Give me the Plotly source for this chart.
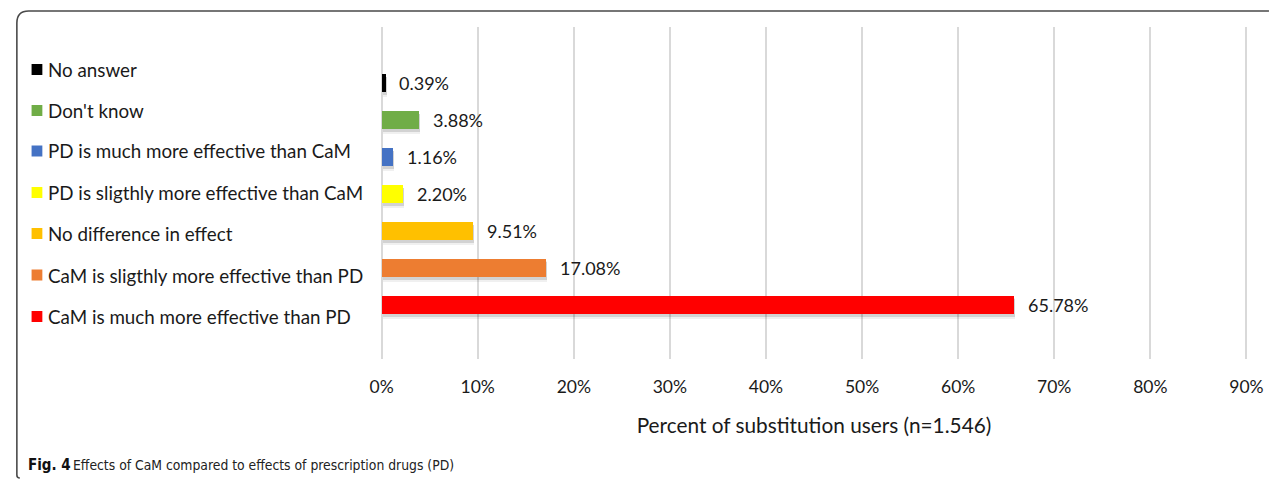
import plotly.graph_objects as go

# Survey answers, listed bottom-to-top as drawn on the category axis
categories = [
    "CaM is much more effective than PD",
    "CaM is sligthly more effective than PD",
    "No difference in effect",
    "PD is sligthly more effective than CaM",
    "PD is much more effective than CaM",
    "Don't know",
    "No answer",
]
percent = [65.78, 17.08, 9.51, 2.20, 1.16, 3.88, 0.39]
colors = ["#FF0000", "#ED7D31", "#FFC000", "#FFFF00", "#4472C4", "#70AD47", "#000000"]
x_ticks = [0, 10, 20, 30, 40, 50, 60, 70, 80, 90]
x_tick_labels = [f"{t}%" for t in x_ticks]

W, H = 1282, 479
X_MIN, X_MAX, X_PAD = 0, 90, 0.2          # small pad so the 0% and 90% grid lines are drawn
ZERO_PX, END_PX = 379, 1261
PX_PER_UNIT = (END_PX - ZERO_PX) / (X_MAX - X_MIN)
PLOT_L = ZERO_PX - X_PAD * PX_PER_UNIT
PLOT_R = END_PX + X_PAD * PX_PER_UNIT
PLOT_T, PLOT_B = 27, 359
BAR_W = 0.49
FONT = "Lato, Calibri, Carlito, sans-serif"
CAPTION_FONT = "Liberation Sans Narrow, DejaVu Sans Condensed, sans-serif"
TXT = "#1a1a1a"


def px(x):
    return x / W


def py(y):
    return 1 - y / H


fig = go.Figure()

# soft drop shadow under each bar
for shade, extra, shift in [(0.06, 0.06, 0.10), (0.12, 0.0, 0.075)]:
    fig.add_trace(go.Bar(
        x=percent, y=categories, orientation="h", base=0.12,
        width=BAR_W + extra, offset=-(BAR_W + extra) / 2 - shift,
        marker=dict(color=f"rgba(0,0,0,{shade})", line_width=0),
        hoverinfo="skip", showlegend=False,
    ))

fig.add_trace(go.Bar(
    x=percent, y=categories, orientation="h",
    width=BAR_W, offset=-BAR_W / 2,
    marker=dict(color=colors, line_width=0),
    showlegend=False,
    hovertemplate="%{y}: %{x:.2f}%<extra></extra>",
))

annotations = []
# value labels to the right of each bar
for cat, val in zip(categories, percent):
    annotations.append(dict(
        x=val, y=cat, xref="x", yref="y", text=f"{val:.2f}%",
        showarrow=False, xanchor="left", yanchor="middle", xshift=12,
        font=dict(family=FONT, size=18, color=TXT),
    ))

# key on the left, top entry first
legend_rows = [69.5, 110.5, 151, 192.5, 233.5, 275, 316.5]
for (cat, col), yc in zip(list(zip(categories, colors))[::-1], legend_rows):
    annotations.append(dict(
        x=px(37), y=py(yc), xref="paper", yref="paper", text=cat,
        showarrow=False, xanchor="left", yanchor="middle",
        font=dict(family=FONT, size=18.8, color=TXT),
    ))

# figure caption
annotations.append(dict(
    x=px(16), y=py(465), xref="paper", yref="paper",
    text="<b>Fig. 4</b>", showarrow=False, xanchor="left", yanchor="middle",
    font=dict(family=CAPTION_FONT, size=15, color="#111"),
))
annotations.append(dict(
    x=px(62), y=py(465), xref="paper", yref="paper",
    text="Effects of CaM compared to effects of prescription drugs (PD)",
    showarrow=False, xanchor="left", yanchor="middle",
    font=dict(family=CAPTION_FONT, size=13.8, color="#222"),
))

shapes = []
for (cat, col), yc in zip(list(zip(categories, colors))[::-1], legend_rows):
    shapes.append(dict(
        type="rect", xref="paper", yref="paper",
        x0=px(22), x1=px(33), y0=py(yc + 5.5), y1=py(yc - 5.5),
        fillcolor=col, line_width=0,
    ))

# panel frame: top rule and left rule joined by a rounded corner
shapes.append(dict(
    type="path", xref="paper", yref="paper",
    path=(f"M {px(1284)},{py(11)} L {px(19)},{py(11)} "
          f"Q {px(7)},{py(11)} {px(7)},{py(23)} "
          f"L {px(7)},{py(475)} Q {px(7)},{py(478)} {px(10)},{py(478)}"),
    line=dict(color="#4a4a4a", width=1.6),
))

fig.update_layout(
    width=W, height=H,
    margin=dict(l=0, r=0, t=0, b=0),
    paper_bgcolor="white", plot_bgcolor="white",
    barmode="overlay", bargap=0,
    showlegend=False,
    annotations=annotations,
    shapes=shapes,
    xaxis=dict(
        domain=[px(PLOT_L), px(PLOT_R)],
        range=[X_MIN - X_PAD, X_MAX + X_PAD], tickvals=x_ticks, ticktext=x_tick_labels,
        showgrid=True, gridcolor="#d9d9d9", gridwidth=2,
        zeroline=False, showline=False,
        ticks="outside", ticklen=12, tickcolor="rgba(0,0,0,0)",
        tickfont=dict(family=FONT, size=17.5, color=TXT),
        title=dict(text="Percent of substitution users (n=1.546)",
                   font=dict(family=FONT, size=20.8, color=TXT), standoff=22),
        fixedrange=True,
    ),
    yaxis=dict(
        domain=[py(PLOT_B), py(PLOT_T)],
        type="category", categoryorder="array", categoryarray=categories,
        range=[-1.47, 7.53],
        showticklabels=False, showgrid=False, zeroline=False, showline=False,
        ticks="", fixedrange=True,
    ),
)

fig.write_html("out.html")
